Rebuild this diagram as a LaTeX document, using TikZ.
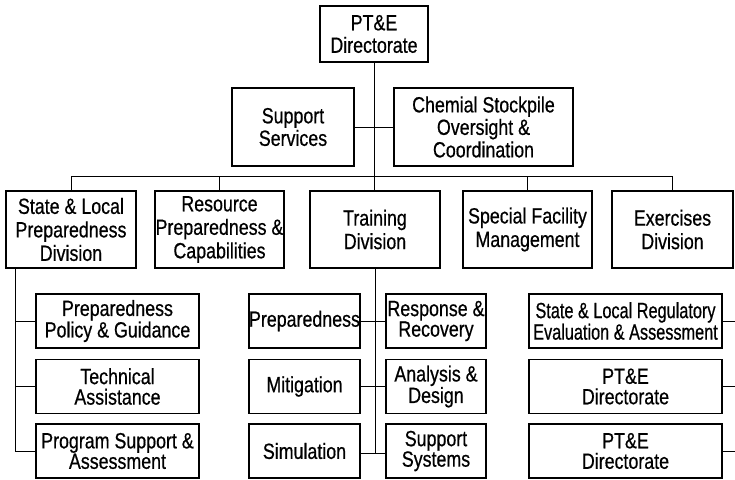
\documentclass[tikz,border=0pt]{standalone}
\usepackage{fontspec}
\setmainfont{Liberation Sans}[FakeStretch=0.81,FakeBold=0.6]
\newfontfamily\narrowfont{Liberation Sans}[FakeStretch=0.74,FakeBold=0.6]
\begin{document}
\begin{tikzpicture}[x=1pt,y=-1pt,
  unit/.style={draw,line width=1.2pt,inner sep=0pt,align=center,
    font=\fontsize{22}{22.5}\selectfont},
  division/.style={unit,minimum height=77pt,font=\fontsize{22}{23.5}\selectfont},
  office/.style={unit,minimum height=54pt,font=\fontsize{22}{20.5}\selectfont},
  link/.style={line width=1pt}]
\useasboundingbox (0,0) rectangle (735,479);
\coordinate (edge) at (735,0);

% directorate and staff offices
\node[unit,minimum width=108pt,minimum height=56pt] (top) at (374,34) {PT\&E\\Directorate};
\node[unit,minimum width=122pt,minimum height=78pt] (support) at (293,127) {Support\\Services};
\node[unit,minimum width=179pt,minimum height=78pt] (chem) at (483.5,127) {Chemial Stockpile\\Oversight \&\\Coordination};

% divisions
\node[division,minimum width=130pt] (state) at (71,229.5) {State \& Local\\Preparedness\\Division};
\node[division,minimum width=129pt] (resource) at (219.5,229.5) {Resource\\Preparedness \&\\Capabilities};
\node[division,minimum width=130pt] (training) at (375,229.5) {Training\\Division};
\node[division,minimum width=129pt] (special) at (527.5,229.5) {Special Facility\\Management};
\node[division,minimum width=121pt] (exercises) at (672.5,229.5) {Exercises\\Division};

% branches of the State & Local Preparedness Division
\node[office,minimum width=163pt] (lc1) at (117.5,321) {Preparedness\\Policy \& Guidance};
\node[office,minimum width=163pt] (lc2) at (117.5,386.5) {Technical\\Assistance};
\node[office,minimum width=163pt] (lc3) at (117.5,451) {Program Support \&\\Assessment};

% branches of the Training Division
\node[office,minimum width=111pt] (ml1) at (304.5,321) {Preparedness};
\node[office,minimum width=111pt] (ml2) at (304.5,386.5) {Mitigation};
\node[office,minimum width=111pt] (ml3) at (304.5,451) {Simulation};
\node[office,minimum width=100pt] (mr1) at (436,321) {Response \&\\Recovery};
\node[office,minimum width=100pt] (mr2) at (436,386.5) {Analysis \&\\Design};
\node[office,minimum width=100pt] (mr3) at (436,451) {Support\\Systems};

% branches of the Exercises Division
\node[office,minimum width=193pt] (rc1) at (625.5,321) {\narrowfont State \& Local Regulatory\\\narrowfont Evaluation \& Assessment};
\node[office,minimum width=193pt] (rc2) at (625.5,386.5) {PT\&E\\Directorate};
\node[office,minimum width=193pt] (rc3) at (625.5,451) {PT\&E\\Directorate};

% main trunk, staff link and division bus
\coordinate (busL) at (state.north |- 0,176);
\coordinate (busR) at (exercises.north |- 0,176);
\draw[link] (top.south) -- (top.south |- training.north);
\draw[link] (support.east) -- (chem.west);
\draw[link] (busL) -- (busR);
\foreach \d in {state,resource,special,exercises}
  \draw[link] (\d.north |- busL) -- (\d.north);

% State & Local branch line
\coordinate (lv) at (15,268);
\draw[link] (lv) |- (lc3.west);
\draw[link] (lv |- lc1.west) -- (lc1.west);
\draw[link] (lv |- lc2.west) -- (lc2.west);

% Training branch line
\coordinate (tEnd) at (375,453);
\draw[link] (training.south) -- (tEnd);
\foreach \b in {ml1,ml2}
  \draw[link] (\b.east) -- (\b.east -| tEnd);
\draw[link] (ml3.east |- tEnd) -- (mr3.west |- tEnd);
\foreach \b in {mr1,mr2}
  \draw[link] (\b.west) -- (\b.west -| tEnd);

% Exercises branch stubs
\foreach \b in {rc1,rc2,rc3}
  \draw[link] (\b.east) -- (\b.east -| edge);
\end{tikzpicture}
\end{document}
